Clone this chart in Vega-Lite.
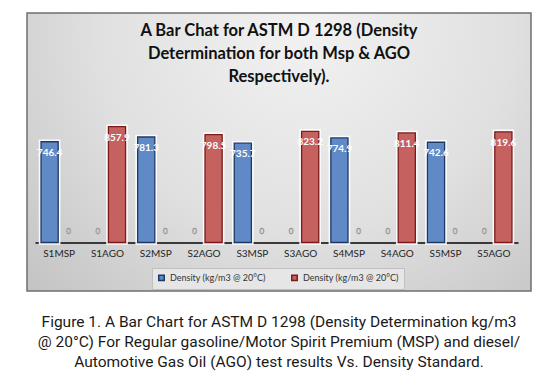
{
  "$schema": "https://vega.github.io/schema/vega-lite/v6.json",
  "padding": {"left": 26, "top": 12, "right": 12, "bottom": 10},
  "background": "white",
  "title": {
    "text": ["Figure 1. A Bar Chart for ASTM D 1298 (Density Determination kg/m3", "@ 20°C) For Regular gasoline/Motor Spirit Premium (MSP) and diesel/", "Automotive Gas Oil (AGO) test results Vs. Density Standard."],
    "orient": "bottom", "anchor": "middle", "offset": 23,
    "font": "Roboto", "fontSize": 15.5, "fontWeight": "normal", "color": "#1a1a1a", "lineHeight": 20
  },
  "data": {"values": [
    {"category": "S1MSP", "series": "MSP", "value": 746.4},
    {"category": "S1MSP", "series": "AGO", "value": 0},
    {"category": "S1AGO", "series": "MSP", "value": 0},
    {"category": "S1AGO", "series": "AGO", "value": 857.9},
    {"category": "S2MSP", "series": "MSP", "value": 781.3},
    {"category": "S2MSP", "series": "AGO", "value": 0},
    {"category": "S2AGO", "series": "MSP", "value": 0},
    {"category": "S2AGO", "series": "AGO", "value": 798.5},
    {"category": "S3MSP", "series": "MSP", "value": 735.7},
    {"category": "S3MSP", "series": "AGO", "value": 0},
    {"category": "S3AGO", "series": "MSP", "value": 0},
    {"category": "S3AGO", "series": "AGO", "value": 823.2},
    {"category": "S4MSP", "series": "MSP", "value": 774.9},
    {"category": "S4MSP", "series": "AGO", "value": 0},
    {"category": "S4AGO", "series": "MSP", "value": 0},
    {"category": "S4AGO", "series": "AGO", "value": 811.4},
    {"category": "S5MSP", "series": "MSP", "value": 742.6},
    {"category": "S5MSP", "series": "AGO", "value": 0},
    {"category": "S5AGO", "series": "MSP", "value": 0},
    {"category": "S5AGO", "series": "AGO", "value": 819.6}
  ]},
  "vconcat": [{
    "width": 504,
    "height": 278,
    "view": {
      "fill": {"gradient": "radial", "x1": 0.55, "y1": 0.25, "r1": 0, "x2": 0.55, "y2": 0.25, "r2": 0.75,
        "stops": [{"offset": 0, "color": "#f2f2f2"}, {"offset": 0.55, "color": "#e0e0e0"}, {"offset": 1, "color": "#c4c4c4"}]},
      "stroke": "#6f6f6f",
      "strokeWidth": 1.5
    },
    "title": {
      "text": ["A Bar Chat for ASTM D 1298 (Density", "Determination  for both Msp & AGO", "Respectively)."],
      "orient": "top", "anchor": "middle", "frame": "group", "offset": -72,
      "font": "Lato", "fontSize": 16.5, "fontWeight": "bold", "color": "#111111", "lineHeight": 23
    },
    "encoding": {
      "x": {"field": "category", "type": "nominal", "sort": null,
        "scale": {"range": [8, 491], "paddingInner": 0.25, "paddingOuter": 0.125},
        "axis": {"orient": "bottom", "offset": -48.5, "title": null, "labelAngle": 0, "ticks": false,
          "domainColor": "#3a3a3a", "domainWidth": 2, "labelFont": "Lato", "labelFontSize": 10,
          "labelColor": "#262626", "labelPadding": 6}},
      "xOffset": {"field": "series", "type": "nominal", "sort": null,
        "scale": {"domain": ["MSP", "AGO"], "paddingInner": 0.1, "paddingOuter": 0}},
      "y": {"field": "value", "type": "quantitative",
        "scale": {"domain": [0, 1000], "range": [229.5, 94.5], "nice": false, "zero": false}, "axis": null}
    },
    "layer": [
      {
        "transform": [{"filter": "datum.value > 0"}],
        "mark": {"type": "bar", "fill": "white", "stroke": "white", "strokeWidth": 4.5, "opacity": 0.9}
      },
      {
        "transform": [{"filter": "datum.value > 0"}],
        "mark": {"type": "bar", "strokeWidth": 1.3},
        "encoding": {
          "color": {"field": "series", "type": "nominal",
            "scale": {"domain": ["MSP", "AGO"], "range": ["#5f8ac6", "#c5615f"]},
            "legend": {"orient": "none", "legendX": 125, "legendY": 255, "direction": "horizontal", "title": null,
              "labelExpr": "'Density (kg/m3 @ 20°C)'", "symbolType": "square", "symbolSize": 30,
              "labelFont": "Lato", "labelFontSize": 9, "labelColor": "#333333", "padding": 5,
              "strokeColor": "#c0c0c0", "fillColor": "#e6e6e6", "columnPadding": 22}},
          "stroke": {"field": "series", "type": "nominal",
            "scale": {"domain": ["MSP", "AGO"], "range": ["#1f3864", "#7b1c1c"]}, "legend": null}
        }
      },
      {
        "transform": [{"filter": "datum.value > 0"}],
        "mark": {"type": "text", "dy": 11, "baseline": "middle", "font": "Lato", "fontSize": 10, "fontWeight": "bold", "fill": "white"},
        "encoding": {"text": {"field": "value", "type": "quantitative", "format": ".1f"}}
      },
      {
        "transform": [{"filter": "datum.value == 0"}],
        "mark": {"type": "text", "dy": -10.5, "baseline": "middle", "font": "Lato", "fontSize": 8, "fill": "#f4f4f4", "stroke": "#8a8a8a", "strokeWidth": 0.5},
        "encoding": {"text": {"field": "value", "type": "quantitative", "format": ".1~f"}}
      }
    ]
  }]
}
